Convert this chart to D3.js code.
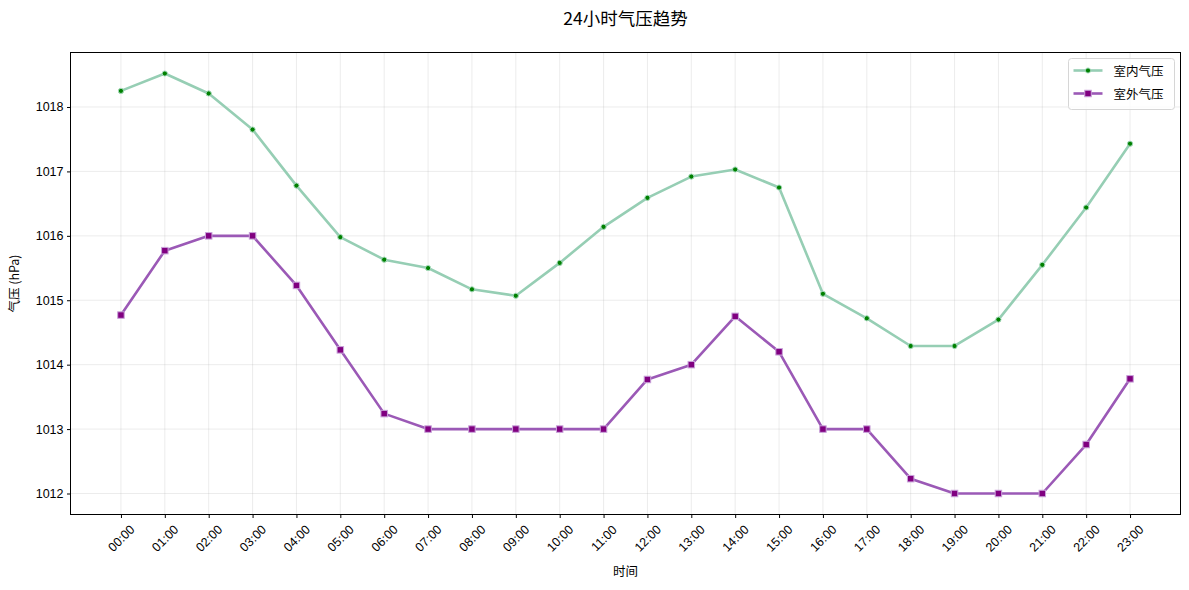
<!DOCTYPE html>
<html>
<head>
<meta charset="utf-8">
<script src="https://cdn.jsdelivr.net/npm/d3@7"></script>
<style>
  html, body { margin: 0; padding: 0; background: #fff; }
  svg { display: block; font-family: "Noto Sans CJK SC", "Noto Sans", sans-serif; }
</style>
</head>
<body>
<svg id="chart" width="1189" height="590"></svg>
<script>
const hours = ["00:00","01:00","02:00","03:00","04:00","05:00","06:00","07:00","08:00","09:00","10:00","11:00",
               "12:00","13:00","14:00","15:00","16:00","17:00","18:00","19:00","20:00","21:00","22:00","23:00"];
const indoorPressure = [1018.25, 1018.52, 1018.21, 1017.65, 1016.78, 1015.98, 1015.63, 1015.50, 1015.17, 1015.07, 1015.58, 1016.14,
                        1016.59, 1016.92, 1017.03, 1016.75, 1015.10, 1014.72, 1014.29, 1014.29, 1014.70, 1015.55, 1016.44, 1017.43];
const outdoorPressure = [1014.77, 1015.77, 1016.00, 1016.00, 1015.23, 1014.23, 1013.24, 1013.00, 1013.00, 1013.00, 1013.00, 1013.00,
                         1013.77, 1014.00, 1014.75, 1014.20, 1013.00, 1013.00, 1012.23, 1012.00, 1012.00, 1012.00, 1012.76, 1013.78];
const yTicks = [1012, 1013, 1014, 1015, 1016, 1017, 1018];
const seriesNames = ["室内气压", "室外气压"];
const titleText = "24小时气压趋势";
const xLabel = "时间";
const yLabel = "气压 (hPa)";

const svg = d3.select("#chart");
const L = 70.5, R = 1180.5, T = 52.5, B = 514.5;

const idx = hours.map((d, i) => i);
const n = hours.length - 1;
const x = d3.scaleLinear().domain([-0.05 * n, n + 0.05 * n]).range([L, R]);
const all = indoorPressure.concat(outdoorPressure);
const lo = d3.min(all), hi = d3.max(all), pad = (hi - lo) * 0.05;
const y = d3.scaleLinear().domain([lo - pad, hi + pad]).range([B, T]);

// grid
const grid = svg.append("g");
idx.forEach(i => grid.append("line")
  .attr("x1", x(i)).attr("x2", x(i)).attr("y1", T).attr("y2", B)
  .attr("stroke", "#b0b0b0").attr("stroke-opacity", 0.3).attr("stroke-width", 0.8));
yTicks.forEach(v => grid.append("line")
  .attr("x1", L).attr("x2", R).attr("y1", y(v)).attr("y2", y(v))
  .attr("stroke", "#b0b0b0").attr("stroke-opacity", 0.3).attr("stroke-width", 0.8));

// axes
const xAxis = d3.axisBottom(x).tickValues(idx).tickFormat(i => hours[i]).tickSizeOuter(0).tickSize(3.5).tickPadding(3.5);
const gx = svg.append("g").attr("transform", `translate(0,${B})`).call(xAxis);
gx.select(".domain").remove();
gx.selectAll(".tick line").attr("stroke", "#000");
gx.selectAll(".tick text")
  .attr("font-size", 12.5).attr("fill", "#000")
  .attr("text-anchor", "middle")
  .attr("dominant-baseline", "central")
  .attr("y", 0).attr("dy", 0)
  .attr("transform", "translate(0,24) rotate(-45)");

const yAxis = d3.axisLeft(y).tickValues(yTicks).tickFormat(d3.format("d")).tickSizeOuter(0).tickSize(3.5).tickPadding(3.5);
const gy = svg.append("g").attr("transform", `translate(${L},0)`).call(yAxis);
gy.select(".domain").remove();
gy.selectAll(".tick line").attr("stroke", "#000");
gy.selectAll(".tick text").attr("font-size", 12.5).attr("fill", "#000");

// lines
const line = d3.line().x((d, i) => x(i)).y(d => y(d));
svg.append("path").datum(indoorPressure).attr("d", line)
  .attr("fill", "none").attr("stroke", "#96ceb4").attr("stroke-width", 2.6).attr("stroke-linejoin", "round");
svg.append("path").datum(outdoorPressure).attr("d", line)
  .attr("fill", "none").attr("stroke", "#9b59b6").attr("stroke-width", 2.6).attr("stroke-linejoin", "round");

// markers
svg.append("g").selectAll("circle").data(indoorPressure).join("circle")
  .attr("cx", (d, i) => x(i)).attr("cy", d => y(d)).attr("r", 2.6)
  .attr("fill", "#008000").attr("stroke", "#a8dcbf").attr("stroke-width", 1);
const sq = 6.5;
svg.append("g").selectAll("rect").data(outdoorPressure).join("rect")
  .attr("x", (d, i) => x(i) - sq / 2).attr("y", d => y(d) - sq / 2)
  .attr("width", sq).attr("height", sq)
  .attr("fill", "#800080").attr("stroke", "#c9a3da").attr("stroke-width", 1);

// frame
svg.append("rect").attr("x", L).attr("y", T).attr("width", R - L).attr("height", B - T)
  .attr("fill", "none").attr("stroke", "#000").attr("stroke-width", 1);

// title & labels
svg.append("text").attr("x", (L + R) / 2).attr("y", 25).attr("text-anchor", "middle")
  .attr("font-size", 17.5).attr("fill", "#000").text(titleText);
svg.append("text").attr("x", (L + R) / 2).attr("y", 576).attr("text-anchor", "middle")
  .attr("font-size", 12.5).attr("fill", "#000").text(xLabel);
svg.append("text").attr("transform", `translate(19,${(T + B) / 2}) rotate(-90)`).attr("text-anchor", "middle")
  .attr("font-size", 12.5).attr("fill", "#000").text(yLabel);

// legend
const lg = svg.append("g").attr("transform", "translate(1068.5,58.5)");
lg.append("rect").attr("x", 0).attr("y", 0).attr("width", 106).attr("height", 51).attr("rx", 3)
  .attr("fill", "#fff").attr("fill-opacity", 0.8).attr("stroke", "#d6d6d6");
const legendItems = [
  { name: seriesNames[0], color: "#96ceb4", mark: "circle" },
  { name: seriesNames[1], color: "#9b59b6", mark: "square" }
];
legendItems.forEach((it, k) => {
  const cy = 12 + k * 23;
  lg.append("line").attr("x1", 5).attr("x2", 34).attr("y1", cy).attr("y2", cy)
    .attr("stroke", it.color).attr("stroke-width", 2.6);
  if (it.mark === "circle") {
    lg.append("circle").attr("cx", 19.5).attr("cy", cy).attr("r", 2.6)
      .attr("fill", "#008000").attr("stroke", "#a8dcbf").attr("stroke-width", 1);
  } else {
    lg.append("rect").attr("x", 19.5 - sq / 2).attr("y", cy - sq / 2).attr("width", sq).attr("height", sq)
      .attr("fill", "#800080").attr("stroke", "#c9a3da").attr("stroke-width", 1);
  }
  lg.append("text").attr("x", 45).attr("y", cy).attr("dominant-baseline", "central")
    .attr("font-size", 12.5).attr("fill", "#000").text(it.name);
});
</script>
</body>
</html>
